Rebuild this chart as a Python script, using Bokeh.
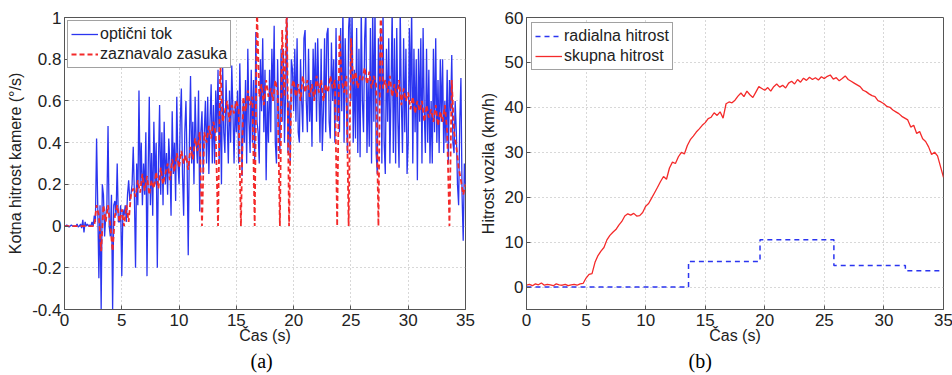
from bokeh.plotting import figure
from bokeh.layouts import row
from bokeh.models import Range1d, FixedTicker, Title
from bokeh.embed import file_html
from bokeh.resources import INLINE

# ---------------- data ----------------
DT_OPT = 0.1  # sample spacing of optical-flow series, seconds
opticni_tok = [
    0, 0, 0.005, 0, -0.005, 0, 0.005, 0, 0, 0,
    0, 0.01, -0.005, 0, 0.01, -0.01, 0.03, -0.03, 0.02, 0,
    0.01, 0, 0.005, 0, 0.02, 0, 0.05, 0.02, 0.42, 0.1,
    -0.25, 0.1, -0.4, 0.2, 0.15, -0.05, 0.05, 0.1, 0.48, 0,
    -0.05, 0.15, -0.4, 0.1, 0.12, 0.05, 0.3, 0.02, 0.02, 0.1,
    -0.24, 0.08, 0.05, 0.1, 0.02, 0.15, 0.22, 0.12, 0.15, 0.2,
    0.38, 0.15, -0.2, 0.3, 0.1, 0.65, 0.2, 0.4, 0.1, 0.3,
    0.15, 0.45, -0.24, 0.25, 0.62, 0.1, 0.35, 0.05, 0.5, 0.2,
    0.4, -0.2, 0.3, 0.58, 0.15, 0.45, 0.1, 0.5, 0.2, 0.35,
    0.15, 0.42, 0.3, 0.05, 0.55, 0.25, 0.4, 0.12, 0.62, 0.3,
    0.2, 0.5, 0.66, 0.25, 0.05, 0.45, 0.6, 0.3, -0.14, 0.4,
    0.72, 0.3, 0.5, 0.2, 0.62, 0.4, 0.3, 0.65, 0.07, 0.45,
    0.55, 0.25, 0.45, 0.6, 0.3, 0.62, 0.25, 0.5, 0.68, 0.3,
    0.58, 0.3, 0.65, 0.45, 0.75, 0.3, 0.6, 0.2, 0.78, 0.45,
    0.35, 0.7, 0.5, 0.3, 0.65, 0.4, 0.77, 0.55, 0.3, 0.6,
    0.45, 0.65, 0.3, 0.78, 0.5, 0.24, 0.6, 0.4, 0.7, 0.3,
    0.85, 0.5, 0.35, 0.75, 0.4, 0.7, 0.3, 0.93, 0.5, 0.45,
    0.3, 0.8, 0.55, 0.9, 0.45, 0.75, 0.22, 0.6, 0.4, 0.75,
    0.45, 0.85, 0.6, 0.96, 0.4, 0.3, 0.8, 0.5, 0.35, 0.85,
    0.5, 0.85, 0.4, 0.65, 1.05, 0.35, 0.6, 0.3, 0.8, 0.75,
    0.55, 0.85, 0.5, 0.9, 0.45, 0.4, 0.8, 0.6, 0.45, 0.9,
    0.94, 0.6, 0.45, 0.85, 0.5, 0.7, 0.38, 0.85, 0.6, 0.88,
    0.5, 0.9, 0.65, 0.4, 0.85, 0.36, 0.55, 0.9, 0.45, 0.92,
    0.95, 0.5, 0.42, 0.88, 0.6, 0.8, 0.4, 0.95, 0.5, 0.7,
    0.45, 0.95, 0.55, 1.05, 0.4, 0.9, 0.6, 0.35, 0.95, 1.05,
    0.6, 1.05, 0.4, 0.75, 0.42, 0.95, 0.35, 0.85, 0.33, 1.05,
    0.6, 0.45, 0.9, 1.05, 0.35, 0.7, 0.38, 0.95, 0.3, 1.05,
    0.5, 1.05, 0.35, 0.25, 0.9, 0.6, 0.95, 0.3, 1.05, 0.4,
    0.25, 0.85, 0.5, 0.9, 0.3, 0.65, 1.05, 0.35, 0.9, 0.3,
    0.95, 0.5, 0.28, 1.05, 0.6, 0.35, 0.9, 0.45, 0.85, 0.25,
    0.4, 0.95, 0.6, 1.05, 0.3, 0.85, 0.45, 0.8, 0.22, 0.85,
    0.5, 0.9, 0.3, 0.95, 0.55, 0.35, 0.85, 0.4, 0.75, 0.3,
    0.6, 0.3, 0.85, 0.45, 0.9, 0.4, 0.7, 0.35, 0.8, 0.5,
    0.8, 0.35, 0.6, 0.4, 0.75, 0.3, 0.7, 0.55, 0.82, 0.4,
    0.35, 0.6, 0.45, 0.2, 0.1, 0.5, 0.71, 0.15, -0.07, 0.3,
    0.2,
]
DT_GYR = 0.2  # sample spacing of gyro series, seconds
zaznavalo_zasuka = [
    0, 0, 0, 0, 0,
    0, 0, 0, 0, 0,
    0, 0, 0, 0, 0.1,
    0.05, -0.12, 0.1, 0.02, 0.1,
    0.0, -0.12, 0.05, 0.1, 0.02,
    0.08, 0.0, 0.1, 0.02, 0.15,
    0.18, 0.14, 0.22, 0.16, 0.25,
    0.17, 0.24, 0.15, 0.22, 0.18,
    0.26, 0.18, 0.28, 0.2, 0.25,
    0.3, 0.22, 0.32, 0.26, 0.35,
    0.28, 0.36, 0.3, 0.34, 0.27,
    0.38, 0.32, 0.42, 0.36, 0.45,
    0.0, 0.45, 0.4, 0.48, 0.42,
    0.5, 0.44, 0.0, 0.78, 0.5,
    0.55, 0.6, 0.5, 0.58, 0.54,
    0.6, 0.56, 0.0, 0.62, 0.55,
    0.65, 0.58, 0.62, 0.0, 1.05,
    0.62, 0.68, 0.58, 0.7, 0.62,
    0.66, 0.6, 0.7, 0.64, 0.0,
    0.94, 0.62, 1.05, 0.0, 0.66,
    0.7, 0.62, 0.68, 0.6, 0.72,
    0.64, 0.7, 0.62, 0.68, 0.6,
    0.72, 0.64, 0.7, 0.6, 0.68,
    0.64, 0.72, 0.66, 0.7, 0.0,
    0.92, 0.7, 0.64, 0.72, 0.0,
    0.9, 0.68, 0.74, 0.66, 0.72,
    0.7, 0.76, 0.68, 0.74, 0.66,
    0.72, 0.68, 0.0, 1.05, 0.66,
    0.7, 0.64, 0.72, 0.62, 0.68,
    0.62, 0.7, 0.58, 0.66, 0.6,
    0.64, 0.56, 0.62, 0.54, 0.6,
    0.55, 0.6, 0.5, 0.58, 0.52,
    0.56, 0.5, 0.58, 0.48, 0.55,
    0.5, 0.58, 0.45, 0.0, 0.7,
    0.45, 0.38, 0.28, 0.22, 0.15,
    0.2,
]

DT_B = 0.25  # sample spacing of plot (b), seconds
skupna_hitrost = [
    0.4, 0.6, 0.3, 0.7, 0.5, 0.9, 0.4, 0.6, 0.5, 0.3,
    0.7, 0.5, 0.4, 0.6, 0.3, 0.5, 0.6, 0.4, 0.7, 0.8,
    2.0, 2.8, 3.0, 5.5, 7.0, 8.0, 8.8, 10.5, 11.5, 12.2,
    12.8, 13.8, 14.6, 15.8, 16.3, 16.0, 16.4, 15.8, 15.9, 16.6,
    18.0, 18.6, 19.8, 21.0, 22.2, 23.5, 24.6, 24.0, 26.5, 27.8,
    27.5, 29.0, 30.0, 29.6, 31.5, 32.8, 33.6, 34.5, 35.2, 36.0,
    36.6, 37.5, 37.8, 38.8, 38.2, 39.0, 37.6, 40.8, 41.2, 41.0,
    41.6, 42.5, 43.2, 42.4, 43.6, 42.8, 42.2, 43.4, 44.6, 44.2,
    43.8, 44.4, 43.6, 44.6, 45.2, 44.5, 44.9, 44.3, 45.4, 45.8,
    45.2, 46.2, 45.6, 46.5, 46.0, 46.7, 46.2, 46.6, 46.1, 46.8,
    46.4, 46.9, 47.2, 46.3, 46.6, 45.9, 46.4, 47.0, 46.2, 45.8,
    45.4, 45.0, 44.6, 43.8, 43.5, 43.0, 42.6, 42.4, 41.5, 41.2,
    40.8, 40.2, 40.0, 39.4, 39.0, 38.6, 38.0, 37.6, 37.2, 35.6,
    36.0, 34.2, 34.6, 33.0, 32.4, 31.2, 29.5, 30.0, 29.2, 26.8,
    24.4,
]
radialna_t = [0, 13.6, 19.6, 25.8, 31.8, 35.0]
radialna_hitrost = [0, 5.7, 10.5, 4.8, 3.6, 3.6]

x_ticks = [0, 5, 10, 15, 20, 25, 30, 35]
ya_ticks = [-0.4, -0.2, 0, 0.2, 0.4, 0.6, 0.8, 1]
ya_labels = ["-0.4", "-0.2", "0", "0.2", "0.4", "0.6", "0.8", "1"]
yb_ticks = [0, 10, 20, 30, 40, 50, 60]

t_opt = [i * DT_OPT for i in range(len(opticni_tok))]
t_gyr = [i * DT_GYR for i in range(len(zaznavalo_zasuka))]
t_b = [i * DT_B for i in range(len(skupna_hitrost))]

SANS = "Liberation Sans"
SERIF = "Liberation Serif"
BLUE = "#2b35f0"
RED = "#f42a2a"


def style(p, yticks, ylabels=None):
    p.xaxis.ticker = FixedTicker(ticks=x_ticks)
    p.yaxis.ticker = FixedTicker(ticks=yticks)
    if ylabels is not None:
        p.yaxis.major_label_overrides = {v: s for v, s in zip(yticks, ylabels)}
    for ax in (p.xaxis[0], p.yaxis[0]):
        ax.major_label_text_font = SANS
        ax.major_label_text_font_size = "17px"
        ax.major_label_text_color = "#222222"
        ax.axis_label_text_font = SANS
        ax.axis_label_text_font_size = "16px"
        ax.axis_label_text_font_style = "normal"
        ax.axis_label_text_color = "#222222"
        ax.axis_line_color = "#555555"
        ax.major_tick_line_color = "#555555"
        ax.major_tick_in = 4
        ax.major_tick_out = 0
        ax.minor_tick_line_color = None
    p.xaxis.major_label_standoff = 4
    p.xaxis.axis_label_standoff = -2
    p.yaxis.major_label_standoff = 3
    p.yaxis.axis_label_standoff = 5
    p.grid.grid_line_color = "#b0b0b0"
    p.grid.grid_line_dash = "1 3"
    p.grid.grid_line_width = 1
    p.outline_line_color = "#555555"
    p.outline_line_alpha = 1
    p.background_fill_color = "white"
    p.border_fill_color = "white"


# ---------------- (a) ----------------
pa = figure(frame_width=401, frame_height=292, output_backend="svg",
            toolbar_location=None, x_range=Range1d(0, 35),
            y_range=Range1d(-0.4, 1),
            min_border_left=64, min_border_right=11, min_border_top=17,
            min_border_bottom=66,
            x_axis_label="Čas (s)", y_axis_label="Kotna hitrost kamere (°/s)")
style(pa, ya_ticks, ya_labels)
pa.line(t_opt, opticni_tok, color=BLUE, line_width=1.3, legend_label="optični tok")
pa.line(t_gyr, zaznavalo_zasuka, color=RED, line_width=1.8, line_dash="5 3",
        legend_label="zaznavalo zasuka")
pa.add_layout(Title(text="(a)", align="left", offset=186, standoff=2,
                    text_font=SERIF, text_font_size="20px",
                    text_font_style="normal", text_color="black"), "below")

# ---------------- (b) ----------------
pb = figure(frame_width=417, frame_height=292, output_backend="svg",
            toolbar_location=None, x_range=Range1d(0, 35),
            y_range=Range1d(-5, 60),
            min_border_left=47, min_border_right=12, min_border_top=17,
            min_border_bottom=66,
            x_axis_label="Čas (s)", y_axis_label="Hitrost vozila (km/h)")
style(pb, yb_ticks)
pb.step(radialna_t, radialna_hitrost, mode="after", color=BLUE, line_width=1.5,
        line_dash="5 4", legend_label="radialna hitrost")
pb.line(t_b, skupna_hitrost, color=RED, line_width=1.3, legend_label="skupna hitrost")
pb.add_layout(Title(text="(b)", align="left", offset=162, standoff=2,
                    text_font=SERIF, text_font_size="20px",
                    text_font_style="normal", text_color="black"), "below")

for p, m in ((pa, 3), (pb, 5)):
    lg = p.legend[0]
    lg.location = "top_left"
    lg.margin = m
    lg.padding = 3
    lg.spacing = 0
    lg.label_height = 20
    lg.glyph_height = 20
    lg.glyph_width = 27
    lg.label_standoff = 2
    lg.label_text_font = SANS
    lg.label_text_font_size = "16px"
    lg.label_text_color = "#222222"
    lg.border_line_color = "#444444"
    lg.border_line_width = 1
    lg.background_fill_alpha = 1

layout = row(pa, pb)
open("out.html", "w").write(file_html(layout, INLINE))
